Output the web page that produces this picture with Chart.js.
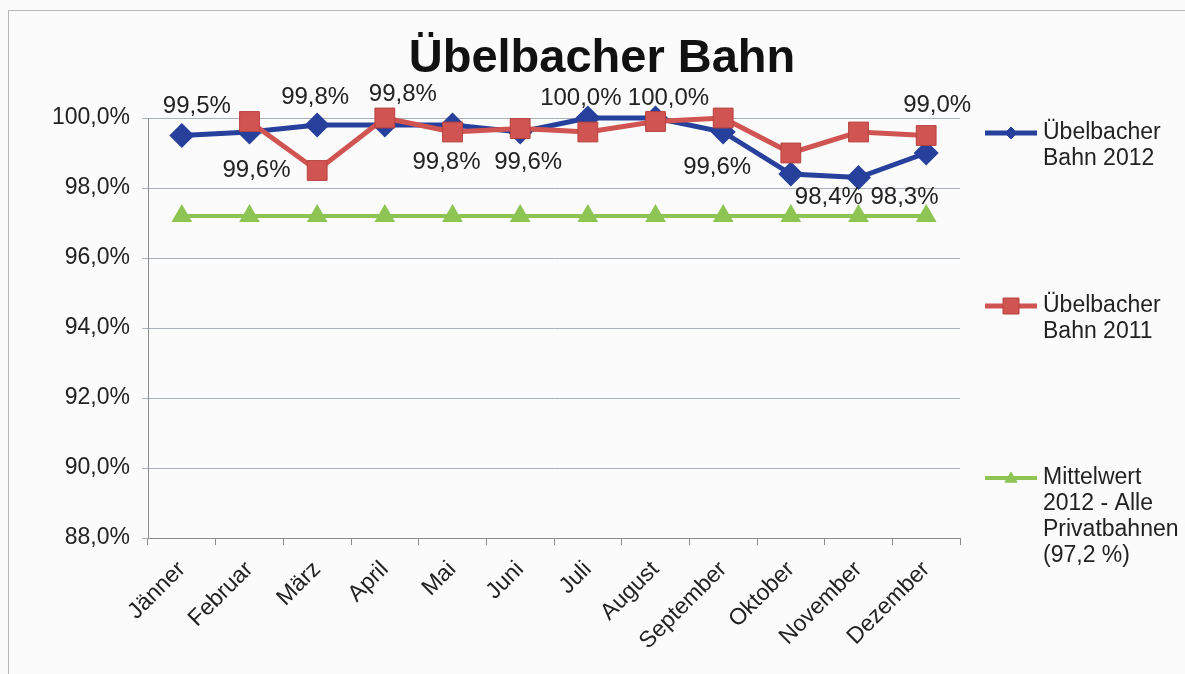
<!DOCTYPE html>
<html>
<head>
<meta charset="utf-8">
<script src="https://cdn.jsdelivr.net/npm/chart.js@4.4.1/dist/chart.umd.min.js"></script>
<style>
  html, body { margin: 0; padding: 0; background: #fbfbfb; overflow: hidden; }
  #wrap { position: relative; width: 1185px; height: 674px; }
  #frame { position: absolute; left: 8px; top: 10px; width: 1200px; height: 700px;
           border-left: 1px solid #b8b8b8; border-top: 1px solid #b8b8b8; }
  canvas { position: absolute; left: 0; top: 0; }
</style>
</head>
<body>
<div id="wrap">
  <div id="frame"></div>
  <canvas id="chart" width="1185" height="674"></canvas>
</div>
<script>
// data
const chartTitle = 'Übelbacher Bahn';
const months = ['Jänner', 'Februar', 'März', 'April', 'Mai', 'Juni', 'Juli',
                'August', 'September', 'Oktober', 'November', 'Dezember'];
const bahn2012 = [99.5, 99.6, 99.8, 99.8, 99.8, 99.6, 100.0, 100.0, 99.6, 98.4, 98.3, 99.0];
const bahn2011 = [null, 99.9, 98.5, 100.0, 99.6, 99.7, 99.6, 99.9, 100.0, 99.0, 99.6, 99.5];
const mittelwert = [97.2, 97.2, 97.2, 97.2, 97.2, 97.2, 97.2, 97.2, 97.2, 97.2, 97.2, 97.2];
const seriesNames = ['Übelbacher Bahn 2012', 'Übelbacher Bahn 2011',
                     'Mittelwert 2012 - Alle Privatbahnen (97,2 %)'];
const yTicks = { min: 88, max: 100, step: 2 };

// where each 2012 data label sits relative to its point (dx, dy)
const labelOffsets = [[15, -29], [7, 38], [-2, -28], [18, -31], [-6, 37], [8, 30],
                      [-7, -20], [13, -20], [-6, 35], [38, 23], [46, 20], [11, -48]];

const FONT = 'Arial, "Liberation Sans", sans-serif';
const pct = v => v.toFixed(1).replace('.', ',') + '%';

const colors = {
  blue: '#26409c',
  red: '#d05452',
  redEdge: '#b8403e',
  green: '#8dc453'
};

function drawMarker(ctx, style, x, y, r, fill, stroke) {
  ctx.save();
  ctx.fillStyle = fill;
  ctx.strokeStyle = stroke;
  ctx.lineWidth = 1;
  ctx.beginPath();
  if (style === 'rectRot') {
    ctx.moveTo(x, y - r); ctx.lineTo(x + r, y); ctx.lineTo(x, y + r); ctx.lineTo(x - r, y);
  } else if (style === 'rect') {
    ctx.rect(x - r, y - r, 2 * r, 2 * r);
  } else {
    ctx.moveTo(x, y - r); ctx.lineTo(x + r, y + r * 0.7); ctx.lineTo(x - r, y + r * 0.7);
  }
  ctx.closePath();
  ctx.fill();
  ctx.stroke();
  ctx.restore();
}

const titlePlugin = {
  id: 'bigTitle',
  afterDraw(chart) {
    const ctx = chart.ctx;
    ctx.save();
    ctx.font = 'bold 47px ' + FONT;
    ctx.fillStyle = '#111';
    ctx.textAlign = 'center';
    ctx.textBaseline = 'middle';
    ctx.fillText(chartTitle, 602, 59);
    ctx.restore();
  }
};

const labelPlugin = {
  id: 'pointLabels',
  afterDatasetsDraw(chart) {
    const ctx = chart.ctx;
    const meta = chart.getDatasetMeta(0);
    ctx.save();
    ctx.font = '24px ' + FONT;
    ctx.fillStyle = '#222';
    ctx.textAlign = 'center';
    ctx.textBaseline = 'middle';
    meta.data.forEach((pt, i) => {
      const off = labelOffsets[i];
      ctx.fillText(pct(bahn2012[i]), pt.x + off[0], pt.y + off[1]);
    });
    ctx.restore();
  }
};

function wrapText(ctx, text, maxW) {
  const words = text.split(' ');
  const lines = [];
  let cur = '';
  words.forEach(w => {
    const test = cur ? cur + ' ' + w : w;
    if (cur && ctx.measureText(test).width > maxW) {
      lines.push(cur);
      cur = w;
    } else {
      cur = test;
    }
  });
  if (cur) lines.push(cur);
  return lines;
}

const legendPlugin = {
  id: 'sideLegend',
  afterDraw(chart) {
    const ctx = chart.ctx;
    const rows = [133, 306, 478];
    ctx.save();
    ctx.font = '23px ' + FONT;
    ctx.textAlign = 'left';
    ctx.textBaseline = 'middle';
    chart.data.datasets.forEach((ds, i) => {
      const y = rows[i];
      ctx.strokeStyle = ds.borderColor;
      ctx.lineWidth = ds.borderWidth;
      ctx.beginPath();
      ctx.moveTo(985, y);
      ctx.lineTo(1037, y);
      ctx.stroke();
      drawMarker(ctx, ds.pointStyle, 1011, y, ds.legendMarker, ds.pointBackgroundColor, ds.pointBorderColor);
      ctx.fillStyle = '#222';
      wrapText(ctx, ds.label, 128).forEach((line, k) => {
        ctx.fillText(line, 1043, y + k * 26);
      });
    });
    ctx.restore();
  }
};

new Chart(document.getElementById('chart'), {
  type: 'line',
  data: {
    labels: months,
    datasets: [
      {
        label: seriesNames[0],
        data: bahn2012,
        borderColor: colors.blue,
        borderWidth: 5,
        pointStyle: 'rectRot',
        pointRadius: 9,
        pointBackgroundColor: colors.blue,
        pointBorderColor: colors.blue,
        legendMarker: 6,
        tension: 0,
        clip: false,
        order: 2
      },
      {
        label: seriesNames[1],
        data: bahn2011,
        borderColor: colors.red,
        borderWidth: 5,
        pointStyle: 'rect',
        pointRadius: 14,
        pointBackgroundColor: colors.red,
        pointBorderColor: colors.redEdge,
        pointBorderWidth: 1,
        legendMarker: 8,
        tension: 0,
        clip: false,
        order: 1
      },
      {
        label: seriesNames[2],
        data: mittelwert,
        borderColor: colors.green,
        borderWidth: 4,
        pointStyle: 'triangle',
        pointRadius: 8,
        pointBackgroundColor: colors.green,
        pointBorderColor: colors.green,
        legendMarker: 6,
        tension: 0,
        clip: false,
        order: 3
      }
    ]
  },
  options: {
    responsive: false,
    animation: false,
    events: [],
    layout: { padding: { top: 118, right: 225, left: 0, bottom: 0 } },
    plugins: {
      legend: { display: false },
      title: { display: false },
      tooltip: { enabled: false }
    },
    scales: {
      x: {
        offset: true,
        afterFit: s => { s.height = 136; },
        grid: { offset: true, drawOnChartArea: false, tickLength: 7, color: '#8c8c8c' },
        border: { color: '#8c8c8c' },
        ticks: {
          autoSkip: false,
          minRotation: 45,
          maxRotation: 45,
          padding: 11,
          color: '#222',
          font: { family: FONT, size: 23 }
        }
      },
      y: {
        min: yTicks.min,
        max: yTicks.max,
        afterFit: s => { s.width = 148; },
        grid: { color: '#a9b0b8', tickLength: 6 },
        border: { color: '#8c8c8c' },
        ticks: {
          stepSize: yTicks.step,
          padding: 12,
          color: '#222',
          font: { family: FONT, size: 23 },
          callback: v => pct(v)
        }
      }
    }
  },
  plugins: [titlePlugin, labelPlugin, legendPlugin]
});
</script>
</body>
</html>
